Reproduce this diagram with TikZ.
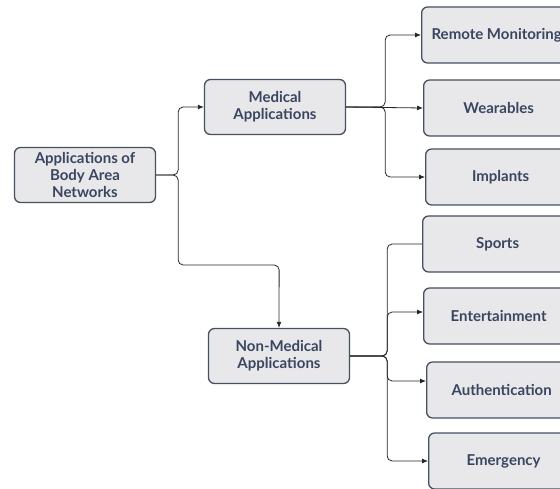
\documentclass[tikz,border=0pt]{standalone}
\usepackage{fontspec}
\setmainfont{Lato}
\usetikzlibrary{arrows.meta,positioning,calc}
\definecolor{boxfill}{HTML}{E8E8EA}
\definecolor{boxline}{HTML}{46505E}
\definecolor{boxtext}{HTML}{3A4560}
\begin{document}
\begin{tikzpicture}[x=1pt, y=-1pt, font=\bfseries\fontsize{15}{17}\selectfont]
            \tikzstyle{box} = [rectangle, rounded corners=6pt, draw=boxline, line width=1.3pt, fill=boxfill, text=boxtext, align=center, inner sep=2pt]
            \tikzstyle{hub} = [box, minimum width=141pt, minimum height=55pt]
            \tikzstyle{leaf} = [box, minimum width=150pt, minimum height=56pt, anchor=west]
            \tikzstyle{link} = [draw=black!85, line width=0.8pt, rounded corners=5pt]
            \tikzstyle{arr} = [link, -{Latex[length=6pt,width=5pt]}]

            \useasboundingbox (0,0) rectangle (560,489);
            \clip (0,0) rectangle (560,489);

            \node[hub] (root) at (85,175) {Applications of\\Body Area\\Networks};
            \node[hub] (med) at (275,107) {Medical\\Applications};
            \node[hub] (nonmed) at (279,356) {Non-Medical\\Applications};

            \node[leaf] (remote) at (421,35) {Remote Monitoring};
            \node[leaf] (wear) at (423,108) {Wearables};
            \node[leaf] (impl) at (425,177) {Implants};
            \node[leaf] (sports) at (422,244) {Sports};
            \node[leaf] (ent) at (423,316) {Entertainment};
            \node[leaf] (auth) at (426,390) {Authentication};
            \node[leaf] (emerg) at (428,461) {Emergency};

            % root splits to the two groups
            \draw[arr] (root.east) -- ++(22,0) |- (med.west);
            \draw[arr] (root.east) -- ++(22,0) |- ++(101,90) -- (nonmed.north);

            % medical branch
            \draw[arr] (med.east) -- ++(39,0) |- (remote.west);
            \draw[arr] (med.east) -- (wear.west);
            \draw[arr] (med.east) -- ++(39,0) |- (impl.west);

            % non-medical branch
            \draw[link] (nonmed.east) -- ++(37,0) |- (sports.west);
            \draw[arr] (nonmed.east) -- ++(37,0) |- ($(ent.west)+(0,-4)$);
            \draw[arr] (nonmed.east) -- ++(37,0) |- ($(auth.west)+(0,-9)$);
            \draw[arr] (nonmed.east) -- ++(37,0) |- (emerg.west);
\end{tikzpicture}
\end{document}
